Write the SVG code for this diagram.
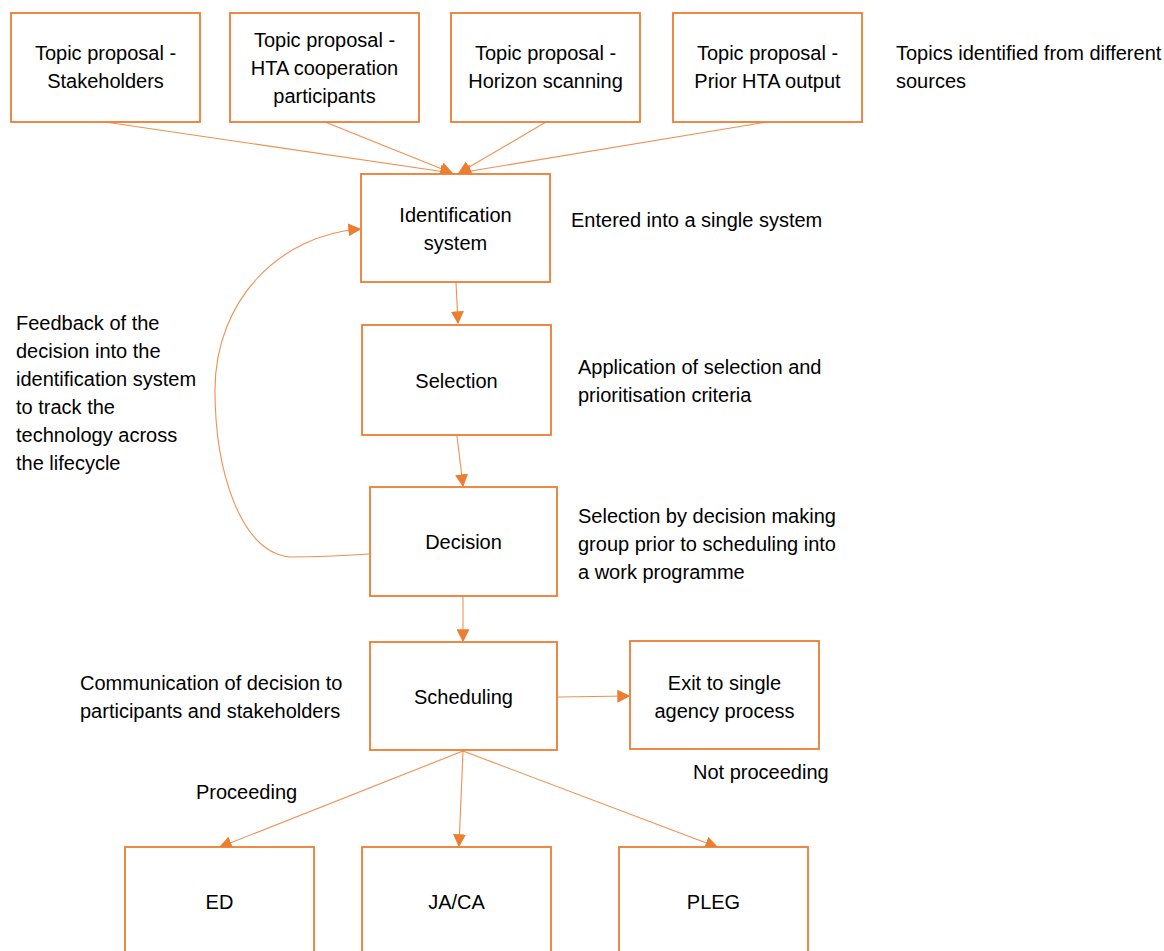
<svg xmlns="http://www.w3.org/2000/svg" width="1164" height="951" viewBox="0 0 1164 951">
  <style>
    .box { fill: #ffffff; stroke: #ED7D31; stroke-width: 1.8; }
    .lbl { font-family: "Liberation Sans", Arial, sans-serif; font-size: 20px; fill: #000000; }
    .mid { text-anchor: middle; }
    .con { fill: none; stroke: #ED7D31; stroke-width: 1.1; stroke-opacity: 0.85; }
  </style>
  <defs>
    <marker id="arrow" viewBox="0 0 10 10" refX="9" refY="5" markerWidth="13" markerHeight="13" markerUnits="userSpaceOnUse" orient="auto">
      <path d="M0,0 L10,5 L0,10 Z" fill="#ED7D31"/>
    </marker>
  </defs>
  <rect width="1164" height="951" fill="#ffffff"/>

  <!-- connectors -->
  <g id="connectors">
    <line class="con" x1="105" y1="122" x2="452" y2="173" marker-end="url(#arrow)"/>
    <line class="con" x1="325" y1="122" x2="452" y2="173" marker-end="url(#arrow)"/>
    <line class="con" x1="546" y1="122" x2="459" y2="173" marker-end="url(#arrow)"/>
    <line class="con" x1="767" y1="122" x2="459" y2="173" marker-end="url(#arrow)"/>
    <line class="con" x1="456" y1="283" x2="458" y2="323" marker-end="url(#arrow)"/>
    <line class="con" x1="457" y1="436" x2="463" y2="486" marker-end="url(#arrow)"/>
    <line class="con" x1="463" y1="597" x2="463" y2="641" marker-end="url(#arrow)"/>
    <line class="con" x1="558" y1="697" x2="629" y2="696" marker-end="url(#arrow)"/>
    <line class="con" x1="463" y1="751" x2="220" y2="847" marker-end="url(#arrow)"/>
    <line class="con" x1="463" y1="751" x2="459" y2="846" marker-end="url(#arrow)"/>
    <line class="con" x1="463" y1="751" x2="717" y2="847" marker-end="url(#arrow)"/>
    <path class="con" d="M369,554 C340,556 310,557 290,557 C240,552 215,470 215,390 C215,300 280,235 360,229" marker-end="url(#arrow)"/>
  </g>

  <!-- topic sources -->
  <g id="topic-stakeholders">
    <rect class="box" x="11" y="13" width="189" height="109"/>
    <text class="lbl mid" x="105.5" y="60">Topic proposal -</text>
    <text class="lbl mid" x="105.5" y="88">Stakeholders</text>
  </g>
  <g id="topic-hta-participants">
    <rect class="box" x="230" y="13" width="189" height="109"/>
    <text class="lbl mid" x="324.5" y="47">Topic proposal -</text>
    <text class="lbl mid" x="324.5" y="75">HTA cooperation</text>
    <text class="lbl mid" x="324.5" y="103">participants</text>
  </g>
  <g id="topic-horizon">
    <rect class="box" x="451" y="13" width="189" height="109"/>
    <text class="lbl mid" x="545.5" y="60">Topic proposal -</text>
    <text class="lbl mid" x="545.5" y="88">Horizon scanning</text>
  </g>
  <g id="topic-prior-output">
    <rect class="box" x="673" y="13" width="189" height="109"/>
    <text class="lbl mid" x="767.5" y="60">Topic proposal -</text>
    <text class="lbl mid" x="767.5" y="88">Prior HTA output</text>
  </g>
  <g id="note-sources">
    <text class="lbl" x="896" y="60">Topics identified from different</text>
    <text class="lbl" x="896" y="88">sources</text>
  </g>

  <!-- main flow -->
  <g id="identification">
    <rect class="box" x="361" y="174" width="189" height="108"/>
    <text class="lbl mid" x="455.5" y="222">Identification</text>
    <text class="lbl mid" x="455.5" y="250">system</text>
  </g>
  <g id="note-identification">
    <text class="lbl" x="571" y="227">Entered into a single system</text>
  </g>

  <g id="selection">
    <rect class="box" x="362" y="325" width="189" height="110"/>
    <text class="lbl mid" x="456.5" y="388">Selection</text>
  </g>
  <g id="note-selection">
    <text class="lbl" x="578" y="374">Application of selection and</text>
    <text class="lbl" x="578" y="402">prioritisation criteria</text>
  </g>

  <g id="decision">
    <rect class="box" x="370" y="487" width="187" height="109"/>
    <text class="lbl mid" x="463.5" y="549">Decision</text>
  </g>
  <g id="note-decision">
    <text class="lbl" x="578" y="523">Selection by decision making</text>
    <text class="lbl" x="578" y="551">group prior to scheduling into</text>
    <text class="lbl" x="578" y="579">a work programme</text>
  </g>

  <g id="note-feedback">
    <text class="lbl" x="16" y="330">Feedback of the</text>
    <text class="lbl" x="16" y="358">decision into the</text>
    <text class="lbl" x="16" y="386">identification system</text>
    <text class="lbl" x="16" y="414">to track the</text>
    <text class="lbl" x="16" y="442">technology across</text>
    <text class="lbl" x="16" y="470">the lifecycle</text>
  </g>

  <g id="scheduling">
    <rect class="box" x="370" y="642" width="187" height="108"/>
    <text class="lbl mid" x="463.5" y="704">Scheduling</text>
  </g>
  <g id="note-communication">
    <text class="lbl" x="80" y="690">Communication of decision to</text>
    <text class="lbl" x="80" y="718">participants and stakeholders</text>
  </g>

  <g id="exit">
    <rect class="box" x="630" y="641" width="189" height="108"/>
    <text class="lbl mid" x="724.5" y="690">Exit to single</text>
    <text class="lbl mid" x="724.5" y="718">agency process</text>
  </g>
  <g id="label-not-proceeding">
    <text class="lbl" x="693" y="779">Not proceeding</text>
  </g>
  <g id="label-proceeding">
    <text class="lbl" x="196" y="799">Proceeding</text>
  </g>

  <!-- outcomes -->
  <g id="ed">
    <rect class="box" x="125" y="847" width="189" height="120"/>
    <text class="lbl mid" x="219.5" y="909">ED</text>
  </g>
  <g id="ja-ca">
    <rect class="box" x="362" y="847" width="189" height="120"/>
    <text class="lbl mid" x="456.5" y="909">JA/CA</text>
  </g>
  <g id="pleg">
    <rect class="box" x="619" y="847" width="189" height="120"/>
    <text class="lbl mid" x="713.5" y="909">PLEG</text>
  </g>
</svg>
